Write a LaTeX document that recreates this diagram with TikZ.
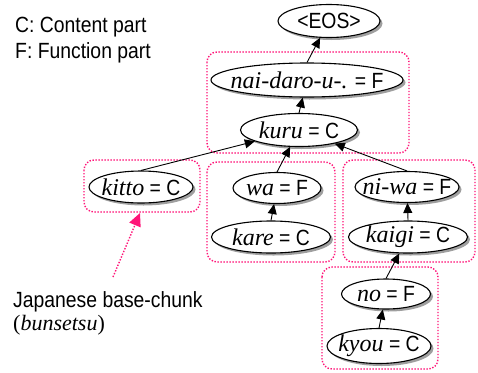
\documentclass[tikz,border=0pt]{standalone}
\usepackage{fontspec}
\setmainfont{Liberation Sans}[FakeStretch=0.88]
\newfontfamily\jpser{Liberation Serif}
\usetikzlibrary{shapes.geometric,shadows,arrows.meta}
\definecolor{chunkpink}{RGB}{255,20,120}
\newcommand\jw[1]{{\fontsize{24}{28}\selectfont\jpser\itshape #1}}
\begin{document}
\begin{tikzpicture}[x=1pt,y=-1pt,
  font=\fontsize{22}{26}\selectfont,
  word/.style={ellipse, draw, line width=1.1pt, fill=white, inner xsep=-20pt, inner ysep=-6pt,
    drop shadow={shadow xshift=2.5pt, shadow yshift=-2.5pt, opacity=0.5, fill=black!75}},
  edge/.style={line width=0.9pt, -{Triangle[length=10pt,width=9pt]}},
  chunk/.style={draw=chunkpink, line width=1.4pt, dash pattern=on 1.4pt off 1.6pt, rounded corners=10pt},
  lbl/.style={anchor=base west, inner sep=0pt}
]
\useasboundingbox (0,0) rectangle (478,372);
% chunk boxes
\draw[chunk] (207,52) rectangle (409,153);
\draw[chunk] (84,160) rectangle (200,212);
\draw[chunk] (207,162) rectangle (335,262);
\draw[chunk] (343,160) rectangle (475,262);
\draw[chunk] (322,267) rectangle (438,369);
% words
\node[word, minimum width=102pt, minimum height=33pt] (eos) at (329,21) {<EOS>};
\node[word, minimum width=192pt, minimum height=34pt] (nai) at (307,80) {\jw{nai-daro-u-.} = F};
\node[word, minimum width=117pt, minimum height=33pt] (kuru) at (299,130) {\jw{kuru} = C};
\node[word, minimum width=104pt, minimum height=32pt] (kitto) at (141,187) {\jw{kitto} = C};
\node[word, minimum width=88pt, minimum height=31pt] (wa) at (277,188) {\jw{wa} = F};
\node[word, minimum width=119pt, minimum height=32pt] (kare) at (271,237) {\jw{kare} = C};
\node[word, minimum width=104pt, minimum height=31pt] (niwa) at (407,187) {\jw{ni-wa} = F};
\node[word, minimum width=119pt, minimum height=32pt] (kaigi) at (408,237) {\jw{kaigi} = C};
\node[word, minimum width=89pt, minimum height=30pt] (no) at (386,294) {\jw{no} = F};
\node[word, minimum width=104pt, minimum height=35pt] (kyou) at (379,346) {\jw{kyou} = C};
% edges
\draw[edge] (nai.north) -- (eos);
\draw[edge] (kuru.north) -- (nai);
\draw[edge] (kitto.north) -- (kuru);
\draw[edge] (wa.north) -- (kuru);
\draw[edge] (niwa.north) -- (kuru);
\draw[edge] (kare.north) -- (wa);
\draw[edge] (kaigi.north) -- (niwa);
\draw[edge] (no.north) -- (kaigi);
\draw[edge] (kyou.north) -- (no);
% legend
\node[lbl] (legc) at (15,32) {C: Content part};
\node[lbl] (legf) at (15,58) {F: Function part};
\node[lbl] (jb) at (13,307) {Japanese base-chunk};
\node[lbl] (bs) at (13,330) {{\jpser(\itshape bunsetsu\/\upshape)}};
\coordinate (pstart) at (113,277);
\coordinate (ptip) at (140,213);
\draw[draw=chunkpink, line width=1.4pt, dash pattern=on 1.4pt off 1.6pt,
  -{Triangle[length=13pt,width=12pt,fill=chunkpink,sep=0pt]}] (pstart) -- (ptip);
\end{tikzpicture}
\end{document}
